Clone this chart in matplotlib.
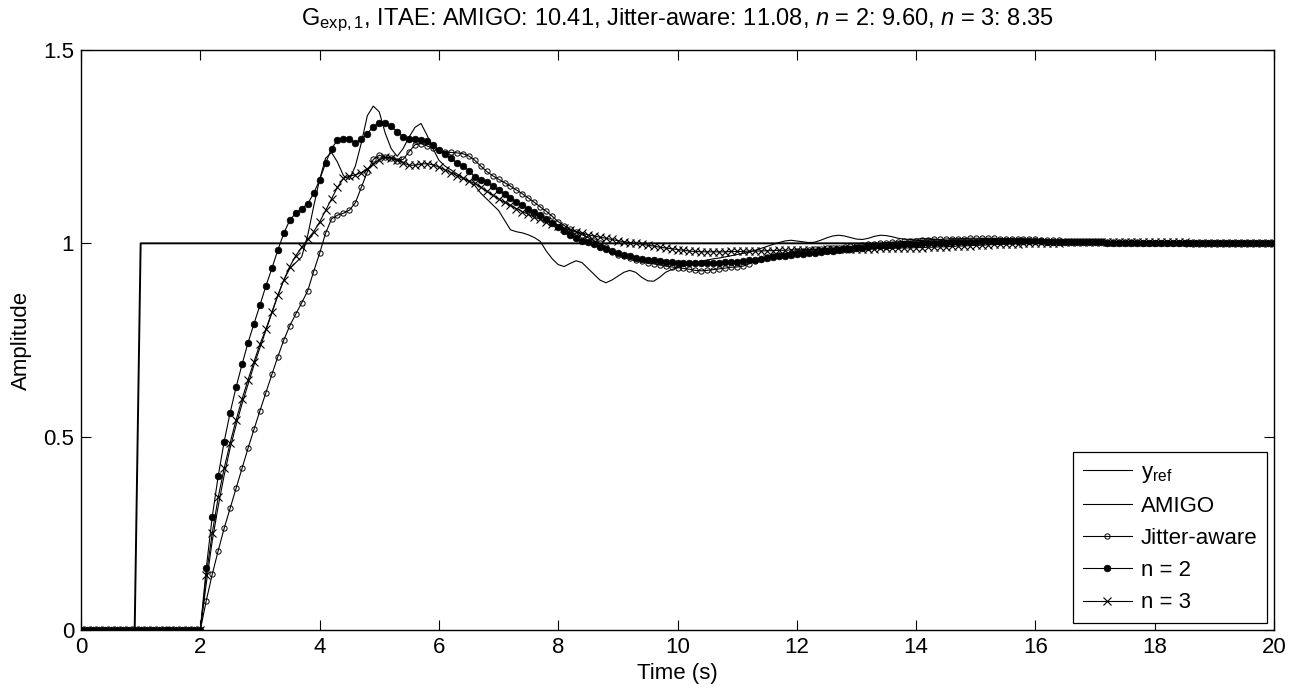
import numpy as np
import matplotlib
matplotlib.use("Agg")
import matplotlib.pyplot as plt

plt.rcParams['font.family'] = ['Liberation Sans', 'DejaVu Sans']
plt.rcParams['mathtext.fontset'] = 'custom'
plt.rcParams['mathtext.rm'] = 'Liberation Sans'
plt.rcParams['mathtext.it'] = 'Liberation Sans:italic'

# time grid: 0 .. 20 s, step 0.1 s
time = np.round(np.arange(201) * 0.1, 1)

y_ref = [0.0] * 10 + [1.0] * 191

amigo = [0.0] * 21 + [
    0.12, 0.23, 0.32, 0.40, 0.47, 0.53, 0.585, 0.635, 0.685, 0.73,
    0.775, 0.82, 0.865, 0.905, 0.935, 0.95, 0.965, 1.02, 1.095, 1.165,
    1.22, 1.235, 1.21, 1.175, 1.165, 1.20, 1.26, 1.33, 1.355, 1.34,
    1.285, 1.245, 1.225, 1.245, 1.275, 1.30, 1.31, 1.28, 1.245, 1.215,
    1.20, 1.19, 1.18, 1.17, 1.16, 1.15, 1.13, 1.115, 1.10, 1.085,
    1.06, 1.035, 1.03, 1.027, 1.022, 1.015, 1.005, 0.98, 0.96, 0.945,
    0.94, 0.948, 0.955, 0.95, 0.935, 0.92, 0.905, 0.898, 0.905, 0.915,
    0.925, 0.93, 0.925, 0.912, 0.903, 0.902, 0.912, 0.925, 0.932, 0.937,
    0.942, 0.946, 0.95, 0.954, 0.957, 0.96, 0.962, 0.965, 0.968, 0.971,
    0.974, 0.977, 0.982, 0.987, 0.992, 0.997, 1.002, 1.006, 1.008, 1.006,
    1.004, 1.002, 1.003, 1.008, 1.014, 1.019, 1.021, 1.019, 1.015, 1.011,
    1.010, 1.013, 1.018, 1.021, 1.020, 1.017, 1.013, 1.011, 1.010, 1.011,
    1.012, 1.012, 1.011, 1.009, 1.007, 1.006, 1.005, 1.005, 1.004, 1.004,
    1.004, 1.003, 1.003, 1.003, 1.002, 1.002, 1.002, 1.002, 1.001, 1.001,
    1.001, 1.001, 1.001, 1.001, 1.001, 1.0, 1.0, 1.0, 1.0, 1.0,
    1.0, 1.0, 1.0, 1.0, 1.0, 1.0, 1.0, 1.0, 1.0, 1.0,
    1.0, 1.0, 1.0, 1.0, 1.0, 1.0, 1.0, 1.0, 1.0, 1.0,
    1.0, 1.0, 1.0, 1.0, 1.0, 1.0, 1.0, 1.0, 1.0, 1.0,
]

jitter_aware = [0.0] * 21 + [
    0.076, 0.144, 0.205, 0.263, 0.315, 0.366, 0.42, 0.47, 0.519, 0.567,
    0.614, 0.661, 0.707, 0.75, 0.787, 0.817, 0.846, 0.877, 0.927, 0.974,
    1.026, 1.063, 1.073, 1.078, 1.086, 1.105, 1.145, 1.185, 1.217, 1.228,
    1.222, 1.22, 1.214, 1.217, 1.237, 1.255, 1.258, 1.252, 1.246, 1.241,
    1.237, 1.235, 1.234, 1.232, 1.226, 1.215, 1.20, 1.186, 1.175, 1.166,
    1.157, 1.148, 1.138, 1.128, 1.117, 1.106, 1.094, 1.083, 1.07, 1.056,
    1.046, 1.037, 1.03, 1.022, 1.015, 1.007, 1.0, 0.99, 0.978, 0.97,
    0.966, 0.962, 0.958, 0.954, 0.95, 0.947, 0.944, 0.941, 0.939, 0.937,
    0.935, 0.933, 0.93, 0.929, 0.93, 0.932, 0.934, 0.936, 0.938, 0.939,
    0.941, 0.947, 0.955, 0.96, 0.964, 0.967, 0.97, 0.973, 0.976, 0.979,
    0.981, 0.983, 0.985, 0.986, 0.987, 0.988, 0.989, 0.99, 0.992, 0.994,
    0.996, 0.998, 0.999, 1.0, 1.002, 1.003, 1.004, 1.005, 1.006, 1.007,
    1.008, 1.009, 1.01, 1.01, 1.011, 1.012, 1.012, 1.012, 1.013, 1.013,
    1.013, 1.013, 1.013, 1.012, 1.012, 1.012, 1.011, 1.011, 1.010, 1.010,
    1.009, 1.009, 1.008, 1.008, 1.007, 1.007, 1.006, 1.006, 1.005, 1.005,
    1.005, 1.004, 1.004, 1.004, 1.003, 1.003, 1.003, 1.002, 1.002, 1.002,
    1.002, 1.001, 1.001, 1.001, 1.001, 1.001, 1.0, 1.0, 1.0, 1.0,
    1.0, 1.0, 1.0, 1.0, 1.0, 1.0, 1.0, 1.0, 1.0, 1.0,
]

n2 = [0.0] * 21 + [
    0.16, 0.293, 0.398, 0.487, 0.562, 0.628, 0.687, 0.743, 0.792, 0.84,
    0.89, 0.935, 0.983, 1.026, 1.06, 1.078, 1.09, 1.102, 1.129, 1.164,
    1.207, 1.245, 1.267, 1.271, 1.269, 1.26, 1.269, 1.284, 1.302, 1.312,
    1.312, 1.303, 1.289, 1.276, 1.271, 1.269, 1.267, 1.265, 1.254, 1.241,
    1.231, 1.22, 1.208, 1.20, 1.188, 1.172, 1.165, 1.158, 1.148, 1.138,
    1.127, 1.117, 1.108, 1.098, 1.09, 1.081, 1.072, 1.064, 1.053, 1.043,
    1.033, 1.022, 1.013, 1.007, 1.003, 0.997, 0.991, 0.985, 0.979, 0.974,
    0.97, 0.966, 0.963, 0.96, 0.958, 0.956, 0.954, 0.952, 0.951, 0.95,
    0.95, 0.95, 0.949, 0.949, 0.949, 0.949, 0.95, 0.951, 0.952, 0.953,
    0.954, 0.956, 0.958, 0.96, 0.962, 0.964, 0.966, 0.968, 0.97, 0.972,
    0.973, 0.974, 0.975, 0.977, 0.979, 0.981, 0.983, 0.985, 0.986, 0.988,
    0.989, 0.99, 0.992, 0.993, 0.994, 0.995, 0.996, 0.997, 0.998, 0.999,
    1.0, 1.001, 1.001, 1.002, 1.002, 1.003, 1.003, 1.004, 1.004, 1.004,
    1.005, 1.005, 1.005, 1.005, 1.005, 1.005, 1.005, 1.005, 1.005, 1.005,
    1.005, 1.004, 1.004, 1.004, 1.004, 1.004, 1.003, 1.003, 1.003, 1.003,
    1.003, 1.002, 1.002, 1.002, 1.002, 1.002, 1.002, 1.001, 1.001, 1.001,
    1.001, 1.001, 1.001, 1.001, 1.0, 1.0, 1.0, 1.0, 1.0, 1.0,
    1.0, 1.0, 1.0, 1.0, 1.0, 1.0, 1.0, 1.0, 1.0, 1.0,
]

n3 = [0.0] * 21 + [
    0.142, 0.25, 0.343, 0.418, 0.484, 0.543, 0.597, 0.647, 0.694, 0.739,
    0.778, 0.822, 0.866, 0.905, 0.94, 0.968, 0.99, 1.01, 1.03, 1.055,
    1.085, 1.115, 1.145, 1.168, 1.174, 1.177, 1.183, 1.193, 1.205, 1.216,
    1.222, 1.221, 1.216, 1.208, 1.202, 1.202, 1.205, 1.206, 1.203, 1.197,
    1.19, 1.183, 1.175, 1.168, 1.162, 1.155, 1.145, 1.135, 1.125, 1.115,
    1.106, 1.098, 1.09, 1.082, 1.075, 1.068, 1.062, 1.056, 1.05, 1.044,
    1.039, 1.034, 1.03, 1.026, 1.022, 1.019, 1.016, 1.013, 1.01, 1.007,
    1.004, 1.002, 1.0, 0.998, 0.995, 0.993, 0.99, 0.988, 0.986, 0.984,
    0.982, 0.98, 0.979, 0.978, 0.978, 0.978, 0.978, 0.978, 0.979, 0.979,
    0.979, 0.98, 0.98, 0.98, 0.981, 0.981, 0.982, 0.982, 0.983, 0.983,
    0.983, 0.984, 0.984, 0.984, 0.985, 0.985, 0.985, 0.985, 0.986, 0.986,
    0.986, 0.986, 0.986, 0.987, 0.987, 0.987, 0.988, 0.988, 0.988, 0.989,
    0.989, 0.99, 0.99, 0.991, 0.991, 0.992, 0.993, 0.993, 0.994, 0.995,
    0.995, 0.996, 0.997, 0.997, 0.998, 0.999, 0.999, 1.0, 1.0, 1.001,
    1.001, 1.002, 1.002, 1.002, 1.003, 1.003, 1.003, 1.003, 1.004, 1.004,
    1.004, 1.004, 1.004, 1.004, 1.004, 1.004, 1.004, 1.004, 1.004, 1.004,
    1.004, 1.003, 1.003, 1.003, 1.003, 1.002, 1.002, 1.002, 1.002, 1.001,
    1.001, 1.001, 1.001, 1.001, 1.0, 1.0, 1.0, 1.0, 1.0, 1.0,
]

x_ticks = [0, 2, 4, 6, 8, 10, 12, 14, 16, 18, 20]
y_ticks = [0, 0.5, 1, 1.5]
y_ticklabels = ['0', '0.5', '1', '1.5']

title = (r'$\mathregular{G_{exp,1}}$, ITAE: AMIGO: 10.41, Jitter-aware: 11.08, '
         r'$\it{n}$ = 2: 9.60, $\it{n}$ = 3: 8.35')

FS = 16

fig = plt.figure(figsize=(12.98, 6.93), dpi=100)
ax = fig.add_axes([81 / 1298, 1 - 630 / 693, (1274 - 81) / 1298, (630 - 50) / 693])

ax.plot(time, y_ref, color='black', lw=1.4, label=r'$\mathregular{y_{ref}}$')
ax.plot(time, amigo, color='black', lw=0.8, label='AMIGO')
ax.plot(time, jitter_aware, color='black', lw=0.8, marker='o', ms=3.8,
        mfc='none', mew=0.7, label='Jitter-aware')
ax.plot(time, n2, color='black', lw=0.8, marker='o', ms=4.8, mfc='black',
        mew=0.5, label='n = 2')
ax.plot(time, n3, color='black', lw=0.8, marker='x', ms=6, mew=0.8,
        label='n = 3')

ax.set_xlim(0, 20)
ax.set_ylim(0, 1.5)
ax.set_xticks(x_ticks)
ax.set_yticks(y_ticks)
ax.set_yticklabels(y_ticklabels)
ax.tick_params(direction='in', length=7, width=0.8, top=True, right=True,
               labelsize=FS, pad=5)
for s in ax.spines.values():
    s.set_linewidth(1.0)

ax.set_xlabel('Time (s)', fontsize=FS, labelpad=4)
ax.set_ylabel('Amplitude', fontsize=FS, labelpad=8)
ax.set_title(title, fontsize=FS + 1, pad=18)

leg = ax.legend(loc='lower right', numpoints=1, fontsize=FS, frameon=True,
                fancybox=False, framealpha=1, edgecolor='black',
                borderaxespad=0.3, labelspacing=0.5, handlelength=2.2,
                handletextpad=0.4, borderpad=0.45)
leg.get_frame().set_linewidth(0.9)
leg.get_lines()[0].set_linewidth(0.8)

fig.savefig('out.png', dpi=100)
